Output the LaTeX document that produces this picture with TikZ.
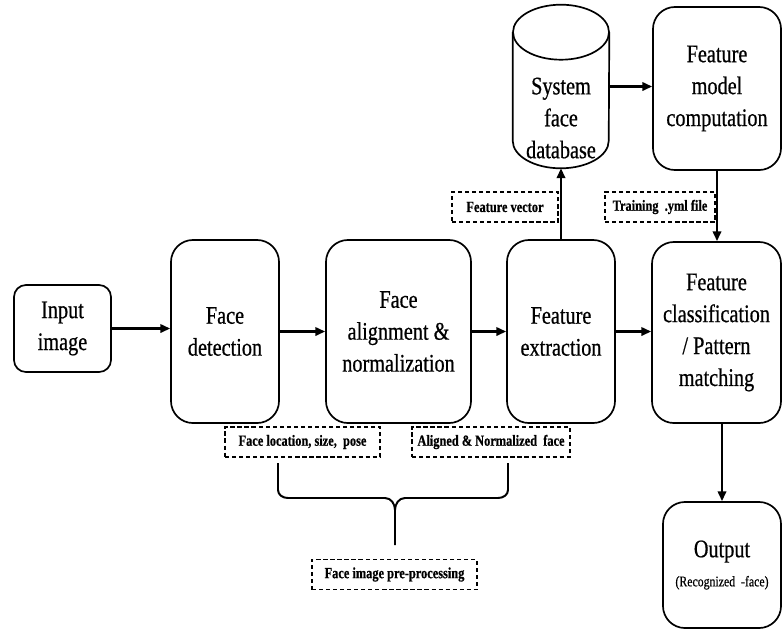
\documentclass[tikz,border=0pt]{standalone}
\usepackage{fontspec}
\setmainfont{Liberation Serif}[FakeStretch=0.8, FakeBold=0.6]
\usetikzlibrary{arrows.meta}

\tikzset{
	box/.style={draw, line width=1.2pt, rounded corners=0.55cm, align=center, inner sep=0pt,
		font=\fontsize{18}{22.7}\selectfont},
	tag/.style={draw, densely dashed, line width=0.8pt, inner sep=0pt, minimum height=0.75cm,
		font=\bfseries\fontsize{11}{12}\selectfont},
	arr/.style={line width=1.6pt, -{Triangle[length=7pt,width=6pt]}},
}

\begin{document}
\begin{tikzpicture}[x=0.025cm, y=-0.025cm]
	\useasboundingbox (0,0) rectangle (782,633);
	% main chain
	\node[box, rounded corners=0.3cm, minimum width=2.425cm, minimum height=2.175cm] (input) at (62.5,328.5) {Input\\image};
	\node[box, minimum width=2.7cm, minimum height=4.575cm] (detect) at (225,331.5) {Face\\detection};
	\node[box, minimum width=3.625cm, minimum height=4.575cm] (align) at (398.5,331.5) {Face\\alignment \&\\normalization};
	\node[box, minimum width=2.7cm, minimum height=4.575cm] (extract) at (561,331.5) {Feature\\extraction};
	\node[box, minimum width=3.225cm, minimum height=4.525cm] (classify) at (716.5,332.5) {Feature\\classification\\/ Pattern\\matching};
	\node[box, minimum width=2.95cm, minimum height=3.15cm] (output) at (722,565) {Output\\[-2pt]{\fontsize{10.5}{12}\selectfont (Recognized~~-face)}};
	\node[box, minimum width=3.2cm, minimum height=4.075cm] (model) at (717,88.5) {Feature\\model\\computation};
	% database cylinder
	\node[minimum width=2.4cm, minimum height=4.075cm, inner sep=0pt] (db) at (561,86.5) {};
	\draw[line width=1.2pt] ([yshift=-0.6875cm]db.north west) -- ([yshift=0.6875cm]db.south west)
		arc[start angle=180, end angle=360, x radius=1.2cm, y radius=0.6875cm]
		-- ([yshift=-0.6875cm]db.north east);
	\draw[line width=1.2pt] ([yshift=-0.6875cm]db.north) ellipse[x radius=1.2cm, y radius=0.6875cm];
	\node[align=center, font=\fontsize{18}{22.7}\selectfont] (dbtext) at (561,118) {System\\face\\database};

	% dashed labels
	\node[tag, minimum width=2.65cm] (vec) at (505,207) {Feature vector};
	\node[tag, minimum width=2.75cm] (train) at (660,207) {Training~~.yml file};
	\node[tag, minimum width=3.875cm] (loc) at (302.5,442) {Face location, size,~~pose};
	\node[tag, minimum width=3.95cm] (aln) at (491,442) {Aligned \& Normalized~~face};
	\node[tag, minimum width=4.125cm] (pre) at (394.5,574.5) {Face image pre-processing};

	% arrows
	\draw[arr] (input.east) -- (input.east -| detect.west);
	\draw[arr] (detect.east) -- (detect.east -| align.west);
	\draw[arr] (align.east) -- (align.east -| extract.west);
	\draw[arr] (extract.east) -- (extract.east -| classify.west);
	\draw[arr] (extract.north) -- (db.south);
	\draw[arr] (db.east) -- (db.east -| model.west);
	\draw[arr] (model.south) -- (model.south |- classify.north);
	\draw[arr] (output.north |- classify.south) -- (output.north);

	% brace
	\draw[line width=1.4pt] (278,463) -- (278,490) to[out=-90,in=180] (288,498) -- (385,498)
		to[out=0,in=90] (395,510) -- (395,545);
	\draw[line width=1.4pt] (508,463) -- (508,490) to[out=-90,in=0] (498,498) -- (405,498)
		to[out=180,in=90] (395,510);
\end{tikzpicture}
\end{document}
